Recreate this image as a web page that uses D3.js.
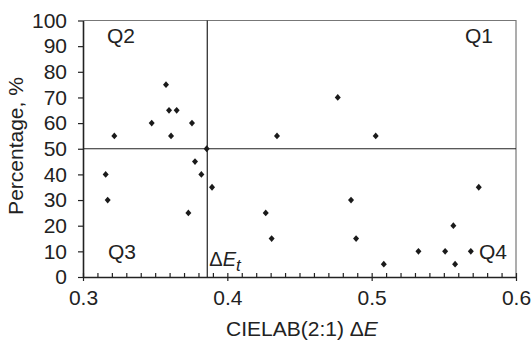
<!DOCTYPE html>
<html>
<head>
<meta charset="utf-8">
<script src="https://cdn.jsdelivr.net/npm/d3@7"></script>
<style>
  body { margin: 0; background: #fff; }
  text { font-family: "Liberation Sans", Arial, sans-serif; fill: #222; }
</style>
</head>
<body>
<div id="chart"></div>
<script>
// data
const deltaE = [0.3217, 0.3476, 0.3575, 0.3596, 0.3649, 0.3610, 0.3755, 0.3857, 0.3776,
                0.3157, 0.3171, 0.3730, 0.3820, 0.3894,
                0.4344, 0.4765, 0.5028,
                0.4266, 0.4307, 0.4857, 0.4892, 0.5084, 0.5324, 0.5509, 0.5566, 0.5578, 0.5687, 0.5742];
const percentage = [55, 60, 75, 65, 65, 55, 60, 50, 45,
                    40, 30, 25, 40, 35,
                    55, 70, 55,
                    25, 15, 30, 15, 5, 10, 10, 20, 5, 10, 35];
const threshold = 0.3861;
const xTicks = [0.3, 0.4, 0.5, 0.6];
const yTicks = [0, 10, 20, 30, 40, 50, 60, 70, 80, 90, 100];
const quadrants = [
  {name: "Q1", x: 0.6, y: 100, anchor: "end", dx: -23},
  {name: "Q2", x: 0.3, y: 100, anchor: "start", dx: 24},
  {name: "Q3", x: 0.3, y: 0, anchor: "start", dx: 25},
  {name: "Q4", x: 0.6, y: 0, anchor: "end", dx: -9}
];

const width = 531, height = 343;
const margin = {top: 20.5, right: 15, bottom: 66, left: 83};

const svg = d3.select("#chart").append("svg")
  .attr("width", width)
  .attr("height", height);

const x = d3.scaleLinear().domain([0.3, 0.6]).range([margin.left, width - margin.right]);
const y = d3.scaleLinear().domain([0, 100]).range([height - margin.bottom, margin.top]);

// frame top and right
svg.append("path")
  .attr("d", `M${x(0.3)},${y(100)}H${x(0.6)}V${y(0)}`)
  .attr("fill", "none")
  .attr("stroke", "#777")
  .attr("stroke-width", 1.2);

// threshold lines
svg.append("line")
  .attr("x1", x(0.3)).attr("x2", x(0.6))
  .attr("y1", y(50)).attr("y2", y(50))
  .attr("stroke", "#222").attr("stroke-width", 1.2);
svg.append("line")
  .attr("x1", x(threshold)).attr("x2", x(threshold))
  .attr("y1", y(100)).attr("y2", y(0))
  .attr("stroke", "#222").attr("stroke-width", 1.2);

// x axis: minor ticks inward, major ticks across
const xMinor = d3.range(31, 60).map(d => d / 100).filter(d => Math.round(d * 100) % 10 !== 0);
svg.append("g")
  .attr("transform", `translate(0,${y(0)})`)
  .call(d3.axisTop(x).tickValues(xMinor).tickSize(4).tickFormat(""))
  .call(g => g.select(".domain").remove())
  .call(g => g.selectAll(".tick line").attr("stroke", "#222").attr("stroke-width", 1.2));
const xAxis = svg.append("g")
  .attr("transform", `translate(0,${y(0)})`)
  .call(d3.axisBottom(x).tickValues(xTicks).tickSize(4).tickSizeOuter(0).tickPadding(9).tickFormat(d3.format(".1f")));
xAxis.select(".domain").attr("stroke", "#222").attr("stroke-width", 1.6);
xAxis.selectAll(".tick line").attr("y1", -4).attr("stroke", "#222").attr("stroke-width", 1.2);
xAxis.selectAll(".tick text").attr("font-size", 21).attr("fill", "#222")
  .style("font-family", "'Liberation Sans', Arial, sans-serif");

// y axis
const yAxis = svg.append("g")
  .attr("transform", `translate(${x(0.3)},0)`)
  .call(d3.axisLeft(y).tickValues(yTicks).tickSize(5).tickSizeOuter(0).tickPadding(11));
yAxis.select(".domain").attr("stroke", "#222").attr("stroke-width", 1.6);
yAxis.selectAll(".tick line").attr("stroke", "#222").attr("stroke-width", 1.2);
yAxis.selectAll(".tick text").attr("font-size", 21).attr("fill", "#222")
  .style("font-family", "'Liberation Sans', Arial, sans-serif");

// points
const points = deltaE.map((d, i) => ({x: d, y: percentage[i]}));
svg.append("g")
  .selectAll("path")
  .data(points)
  .enter()
  .append("path")
    .attr("transform", d => `translate(${x(d.x)},${y(d.y)})`)
    .attr("d", "M0,-3.4L3,0L0,3.4L-3,0Z")
    .attr("fill", "#1a1a1a");

// quadrant labels
svg.append("g")
  .selectAll("text")
  .data(quadrants)
  .enter()
  .append("text")
    .attr("x", d => x(d.x) + d.dx)
    .attr("y", d => d.y === 100 ? y(d.y) + 22 : y(d.y) - 18)
    .attr("text-anchor", d => d.anchor)
    .attr("font-size", 21)
    .text(d => d.name);

// threshold label
const tLabel = svg.append("text")
  .attr("x", x(threshold) + 2)
  .attr("y", y(0) - 11)
  .attr("font-size", 20);
tLabel.append("tspan").text("Δ");
tLabel.append("tspan").attr("font-style", "italic").text("E");
tLabel.append("tspan").attr("font-style", "italic").attr("font-size", 17).attr("dy", 5).text("t");

// axis titles
const xTitle = svg.append("text")
  .attr("x", 302)
  .attr("y", 336)
  .attr("text-anchor", "middle")
  .attr("font-size", 21);
xTitle.append("tspan").text("CIELAB(2:1) Δ");
xTitle.append("tspan").attr("font-style", "italic").text("E");

svg.append("text")
  .attr("transform", `translate(23,146) rotate(-90)`)
  .attr("text-anchor", "middle")
  .attr("font-size", 21)
  .text("Percentage, %");
</script>
</body>
</html>
